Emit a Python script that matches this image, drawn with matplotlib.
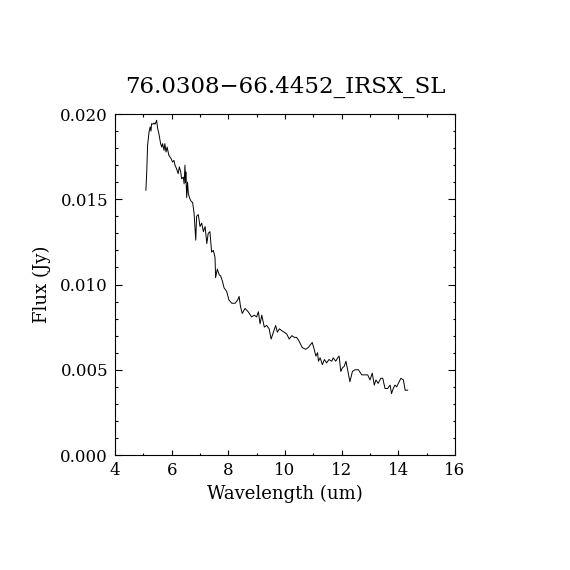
import matplotlib
matplotlib.use('Agg')
import matplotlib.pyplot as plt
from matplotlib.ticker import MultipleLocator

# spectrum
wavelength = [5.09, 5.12, 5.15, 5.20, 5.24, 5.27, 5.29, 5.33, 5.38, 5.41, 5.44, 5.47,
              5.50, 5.55, 5.61, 5.65, 5.68, 5.73, 5.76, 5.80, 5.84, 5.90, 5.98, 6.03,
              6.08, 6.12, 6.17, 6.23, 6.27, 6.32, 6.35, 6.41, 6.44, 6.47, 6.49, 6.50,
              6.53, 6.56, 6.59, 6.65, 6.68, 6.74, 6.79, 6.85, 6.88, 6.94, 7.00, 7.06,
              7.12, 7.18, 7.24, 7.29, 7.35, 7.41, 7.47, 7.53, 7.55, 7.61, 7.68, 7.73,
              7.79, 7.85, 7.94, 8.02, 8.12, 8.24, 8.33, 8.38, 8.43, 8.49, 8.59, 8.70,
              8.82, 8.92, 9.00, 9.06, 9.12, 9.18, 9.27, 9.35, 9.44, 9.51, 9.59, 9.67,
              9.73, 9.80, 9.88, 9.97, 10.06, 10.15, 10.24, 10.33, 10.41, 10.49, 10.61,
              10.73, 10.82, 10.96, 11.03, 11.09, 11.15, 11.18, 11.24, 11.32, 11.39,
              11.47, 11.55, 11.65, 11.70, 11.79, 11.86, 11.91, 11.97, 12.02, 12.09,
              12.15, 12.21, 12.29, 12.38, 12.47, 12.59, 12.71, 12.82, 12.92, 13.00,
              13.08, 13.15, 13.21, 13.29, 13.38, 13.45, 13.53, 13.62, 13.71, 13.76,
              13.82, 13.88, 13.94, 14.00, 14.09, 14.18, 14.24, 14.33]
flux = [0.01553, 0.0166, 0.01816, 0.01894, 0.01924, 0.0190, 0.01943, 0.01940, 0.01947,
        0.0194, 0.01950, 0.01963, 0.0192, 0.01884, 0.01826, 0.01806, 0.01826, 0.01787,
        0.01826, 0.01777, 0.01806, 0.01758, 0.01738, 0.01718, 0.01728, 0.01699, 0.0168,
        0.0165, 0.0169, 0.0166, 0.0162, 0.0163, 0.0159, 0.0170, 0.0160, 0.0166,
        0.0151, 0.0160, 0.0153, 0.0150, 0.0149, 0.0148, 0.0142, 0.0126, 0.0140,
        0.0141, 0.0134, 0.0136, 0.0131, 0.0134, 0.0124, 0.0130, 0.0131, 0.0119,
        0.0120, 0.0116, 0.0104, 0.0109, 0.01056, 0.0105, 0.0102, 0.0098, 0.0096,
        0.0091, 0.0089, 0.0089, 0.0091, 0.0093, 0.0087, 0.0083, 0.0086, 0.0084,
        0.0081, 0.0082, 0.0081, 0.0084, 0.0077, 0.0082, 0.0075, 0.0076, 0.0074,
        0.0068, 0.0072, 0.0076, 0.0072, 0.0074, 0.0073, 0.0072, 0.0071, 0.0068,
        0.0070, 0.0069, 0.0069, 0.0067, 0.0063, 0.0062, 0.0063, 0.0066, 0.0062,
        0.0058, 0.0060, 0.0055, 0.0057, 0.0053, 0.0056, 0.0054, 0.0056, 0.0055,
        0.0057, 0.0055, 0.0057, 0.0058, 0.0049, 0.0051, 0.0052, 0.0055, 0.0050,
        0.0043, 0.0049, 0.0050, 0.0050, 0.0047, 0.0047, 0.0047, 0.0044, 0.0048,
        0.0041, 0.0044, 0.0042, 0.0045, 0.0045, 0.0039, 0.0039, 0.0041, 0.0036,
        0.0039, 0.0041, 0.0040, 0.0042, 0.0045, 0.0044, 0.0038, 0.0038]

plt.rcParams['font.family'] = ['DejaVu Serif']

fig = plt.figure(figsize=(5.7, 5.7), dpi=100)
ax = fig.add_axes([115 / 570, 115 / 570, 340 / 570, 341 / 570])

ax.plot(wavelength, flux, color='black', linewidth=0.7)

ax.set_xlim(4, 16)
ax.set_ylim(0, 0.020)
ax.xaxis.set_major_locator(MultipleLocator(2))
ax.xaxis.set_minor_locator(MultipleLocator(1))
ax.yaxis.set_major_locator(MultipleLocator(0.005))
ax.yaxis.set_minor_locator(MultipleLocator(0.001))
ax.yaxis.set_major_formatter(matplotlib.ticker.FormatStrFormatter('%.3f'))

ax.tick_params(which='both', direction='in', top=True, right=True, labelsize=12, width=0.8)
ax.tick_params(axis='x', which='major', length=3.6, pad=5)
ax.tick_params(axis='x', which='minor', length=1.8)
ax.tick_params(axis='y', which='major', length=4.7, pad=5)
ax.tick_params(axis='y', which='minor', length=1.8)
for s in ax.spines.values():
    s.set_linewidth(0.8)

ax.set_xlabel('Wavelength (um)', fontsize=13, labelpad=4)
ax.set_ylabel('Flux (Jy)', fontsize=13, labelpad=7)
ax.set_title('76.0308\u221266.4452_IRSX_SL', fontsize=16.5, pad=15)

fig.savefig('out.png', dpi=100)
